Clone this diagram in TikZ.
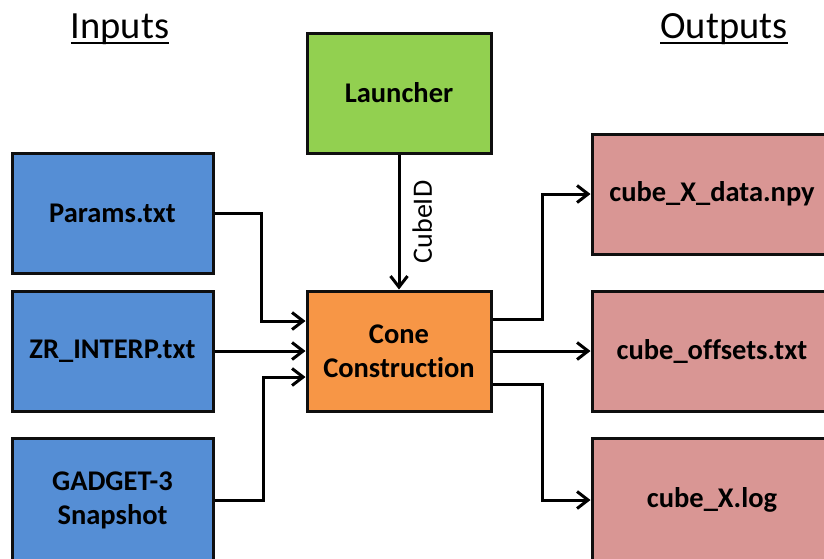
\documentclass[tikz,border=0pt]{standalone}
\usepackage{fontspec}
\setmainfont{Carlito}[Ligatures=NoCommon]
\usepackage{tikz}
\usetikzlibrary{arrows.meta,positioning}
\definecolor{ink}{RGB}{15,15,15}
\definecolor{inblue}{RGB}{85,142,213}
\definecolor{lgreen}{RGB}{146,208,80}
\definecolor{orng}{RGB}{247,150,70}
\definecolor{rose}{RGB}{217,150,148}
\newcommand{\hdr}[1]{\setbox0\hbox{#1}\rlap{\raisebox{-6pt}{\rule{\wd0}{2pt}}}\box0}

\begin{document}
\begin{tikzpicture}[x=1pt,y=-1pt,line width=3pt,>={Straight Barb[length=11pt,width=17pt]},
 b/.style={draw=ink,line width=3pt,align=center,inner sep=0pt,minimum height=120pt,font=\fontsize{28.5}{34}\selectfont\bfseries},
 inp/.style={b,fill=inblue,minimum width=201pt},
 outp/.style={b,fill=rose,minimum width=240pt},
 t/.style={font=\fontsize{38.5}{44}\selectfont,inner sep=0pt,anchor=base}]
 \useasboundingbox (0,0) rectangle (824,558);
 \clip (0,0) rectangle (824,558);
 \node[t](inhdr) at (120,38){\hdr{Inputs}};
 \node[t](outhdr) at (724,38){\hdr{Outputs}};
 \node[b,fill=orng,minimum width=184pt](cone) at (399,351){Cone\\Construction};
 \node[b,fill=lgreen,minimum width=184pt,above=135pt of cone](launch){Launcher};
 \node[inp,left=91pt of cone](zr){ZR\_INTERP.txt};
 \node[inp,above=15pt of zr](params){Params.txt};
 \node[inp,below=24pt of zr,minimum height=124pt](gadget){GADGET-3\\Snapshot};
 \node[outp,right=98pt of cone](offs){cube\_offsets.txt};
 \node[outp,above=34pt of offs](data){cube\_X\_data.npy};
 \node[outp,below=24pt of offs,minimum height=124pt](log){cube\_X.log};
 \draw[->](launch)--(cone) node[midway,anchor=north,rotate=90,inner sep=0pt,inner ysep=12pt,font=\fontsize{28}{32}\selectfont]{CubeID};
 \draw[->](params.east)--++(47,0) |- ([yshift=30pt]cone.west);
 \draw[->](zr)--(cone);
 \draw[->](gadget.east)--++(49,0) |- ([yshift=-26pt]cone.west);
 \draw[->]([yshift=32pt]cone.east)--++(50,0) |- (data.west);
 \draw[->](cone)--(offs);
 \draw[->]([yshift=-33pt]cone.east)--++(50,0) |- (log.west);
\end{tikzpicture}
\end{document}
